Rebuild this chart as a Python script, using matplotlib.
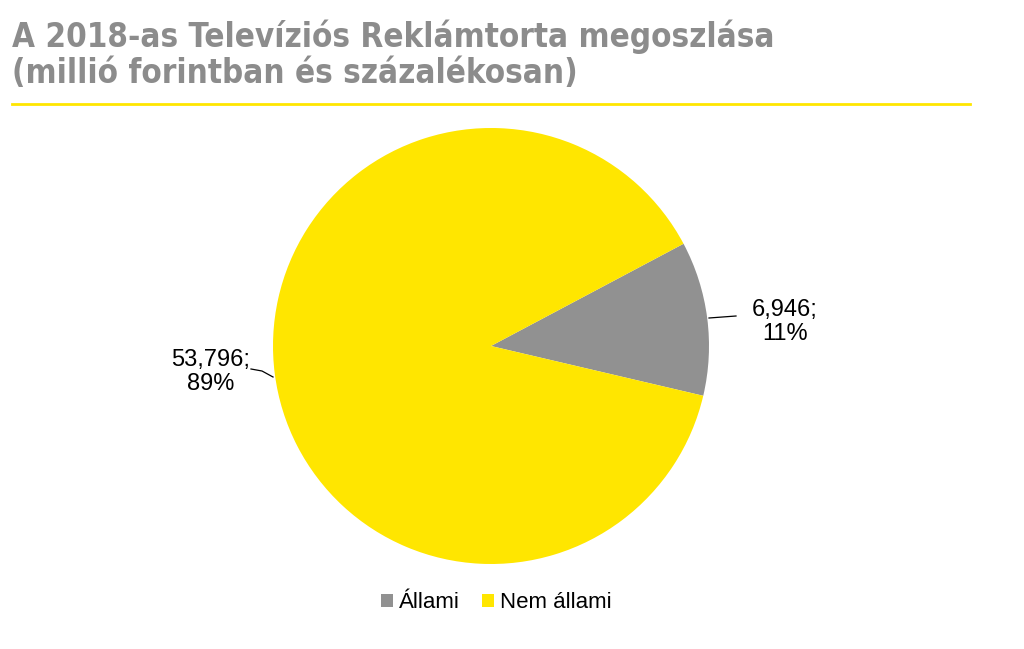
import matplotlib
matplotlib.use("Agg")
import matplotlib.pyplot as plt
from matplotlib.lines import Line2D
from matplotlib.patches import Patch
import numpy as np

categories = ["Állami", "Nem állami"]
values = [6946, 53796]
percent_labels = ["11%", "89%"]
value_labels = ["6,946;", "53,796;"]
colors = ["#919191", "#FFE600"]

title_lines = ["A 2018-as Televíziós Reklámtorta megoszlása", "(millió forintban és százalékosan)"]

W, H = 1024, 649
fig = plt.figure(figsize=(W / 100, H / 100), dpi=100)
fig.patch.set_facecolor("white")

# Title
fig.text(12 / W, 1 - 19 / H, title_lines[0] + "\n" + title_lines[1],
         ha="left", va="top", fontsize=23.8, fontweight="bold",
         family="DejaVu Sans", fontstretch="condensed", color="#8C8C8C",
         linespacing=1.15)
fig.add_artist(Line2D([12 / W, 970 / W], [1 - 103.5 / H, 1 - 103.5 / H],
                      color="#FFE600", lw=2))

# Pie
cx, cy, r = 491, 346, 218
ax = fig.add_axes([(cx - r) / W, (H - cy - r) / H, 2 * r / W, 2 * r / H])
start = -13.2
wedges, _ = ax.pie(values, colors=colors, startangle=start, counterclock=True,
                   radius=1.0, wedgeprops=dict(linewidth=0))
ax.set_xlim(-1, 1)
ax.set_ylim(-1, 1)
ax.set_aspect("equal")
ax.axis("off")

def px(x, y):
    return ((x - cx) / r, (cy - y) / r)

# Labels with leader lines
lab_pos = [(785, 322), (211, 372)]
line_pts = [[(709, 318), (736, 316)], [(273, 377), (262, 371), (251, 369)]]
for i in range(2):
    x, y = px(*lab_pos[i])
    ax.text(x, y, value_labels[i] + "\n" + percent_labels[i], ha="center", va="center",
            fontsize=17, family="Liberation Sans", color="black", linespacing=1.08,
            clip_on=False)
    pts = [px(*p) for p in line_pts[i]]
    ax.plot([p[0] for p in pts], [p[1] for p in pts], color="black", lw=0.9,
            clip_on=False)

# Legend
handles = [Patch(facecolor=c, edgecolor="none") for c in colors]
fig.legend(handles, categories, loc="center", bbox_to_anchor=(496 / W, 1 - 603 / H),
           ncol=2, frameon=False, prop=dict(family="Liberation Sans", size=16),
           handlelength=0.55, handleheight=0.55, handletextpad=0.25, columnspacing=1.0)

fig.savefig("out.png", dpi=100, facecolor="white")
